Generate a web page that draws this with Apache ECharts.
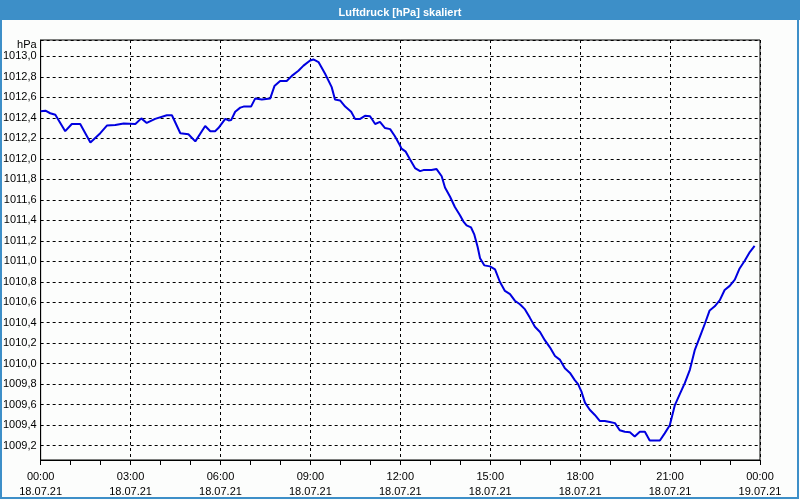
<!DOCTYPE html>
<html>
<head>
<meta charset="utf-8">
<script src="https://cdn.jsdelivr.net/npm/echarts@6/dist/echarts.min.js"></script>
<style>
html,body{margin:0;padding:0;background:#fcfdfc;}
#c{width:800px;height:500px;}
</style>
</head>
<body>
<div id="c"></div>
<script>
// Time of day in hours (18.07.21 00:00 = 0)
var hours = [
 0, 0.16, 0.32, 0.49, 0.82, 1.04, 1.32, 1.66, 1.99, 2.21, 2.49, 2.77, 3.16, 3.36, 3.54, 3.82, 4.21, 4.38, 4.66, 4.93, 5.16, 5.49, 5.66, 5.82,
 5.93, 6.16, 6.27, 6.36, 6.49, 6.66, 6.77, 7.02, 7.16, 7.38, 7.66, 7.80, 7.99, 8.21, 8.38, 8.60, 8.77, 8.99, 9.10, 9.27, 9.49, 9.71, 9.82, 9.99,
 10.16, 10.36, 10.49, 10.66, 10.82, 10.99, 11.16, 11.32, 11.49, 11.66, 11.82, 11.99,
 12.04, 12.18, 12.32, 12.49, 12.66, 12.77, 13.04, 13.21, 13.38, 13.49, 13.66, 13.82, 13.99, 14.10, 14.21, 14.36, 14.47, 14.58, 14.66, 14.80, 14.99,
 15.16, 15.32, 15.49, 15.66, 15.82, 15.99, 16.16, 16.32, 16.49, 16.66, 16.82, 16.99, 17.16, 17.32, 17.49, 17.66, 17.82, 17.93,
 18.04, 18.16, 18.32, 18.49, 18.66, 18.82, 18.99, 19.16, 19.32, 19.49, 19.66, 19.82, 19.99, 20.16, 20.32, 20.49, 20.66, 20.82, 20.99,
 21.16, 21.32, 21.49, 21.66, 21.82, 21.99, 22.16, 22.32, 22.49, 22.66, 22.82, 22.99, 23.16, 23.32, 23.49, 23.66, 23.82
];
// Air pressure in hPa
var pressure = [
 1012.465, 1012.47, 1012.445, 1012.43, 1012.27, 1012.34, 1012.34, 1012.16, 1012.25, 1012.325, 1012.33, 1012.345, 1012.34, 1012.395, 1012.35, 1012.39, 1012.425, 1012.425, 1012.25, 1012.24, 1012.17, 1012.32, 1012.27, 1012.27,
 1012.30, 1012.39, 1012.375, 1012.38, 1012.46, 1012.50, 1012.51, 1012.51, 1012.59, 1012.58, 1012.59, 1012.71, 1012.76, 1012.76, 1012.81, 1012.86, 1012.91, 1012.96, 1012.97, 1012.945, 1012.83, 1012.70, 1012.58, 1012.57,
 1012.51, 1012.46, 1012.39, 1012.39, 1012.42, 1012.415, 1012.34, 1012.36, 1012.30, 1012.29, 1012.22, 1012.13,
 1012.10, 1012.07, 1011.995, 1011.91, 1011.88, 1011.89, 1011.89, 1011.90, 1011.83, 1011.72, 1011.63, 1011.53, 1011.45, 1011.39, 1011.35, 1011.33, 1011.26, 1011.14, 1011.03, 1010.96, 1010.95,
 1010.92, 1010.80, 1010.71, 1010.68, 1010.615, 1010.58, 1010.53, 1010.45, 1010.36, 1010.31, 1010.23, 1010.16, 1010.075, 1010.04, 1009.955, 1009.91, 1009.84, 1009.80,
 1009.73, 1009.62, 1009.55, 1009.50, 1009.44, 1009.44, 1009.43, 1009.42, 1009.35, 1009.335, 1009.33, 1009.29, 1009.335, 1009.335, 1009.25, 1009.25, 1009.25, 1009.32, 1009.40,
 1009.596, 1009.70, 1009.81, 1009.94, 1010.13, 1010.26, 1010.39, 1010.52, 1010.56, 1010.62, 1010.72, 1010.76, 1010.82, 1010.93, 1011.005, 1011.09, 1011.15
];
var timeLabels = ['00:00','03:00','06:00','09:00','12:00','15:00','18:00','21:00','00:00'];
var dateLabels = ['18.07.21','18.07.21','18.07.21','18.07.21','18.07.21','18.07.21','18.07.21','18.07.21','19.07.21'];
var titleText = 'Luftdruck [hPa] skaliert';
var unitText = 'hPa';
var yMin = 1009.06, yMax = 1013.16;

var seriesData = hours.map(function(h, i){ return [h, pressure[i]]; });
var FONT = 'Liberation Sans';

var chart = echarts.init(document.getElementById('c'), null, {renderer: 'canvas'});
chart.setOption({
  backgroundColor: '#fcfdfc',
  animation: false,
  title: {
    text: titleText,
    left: 'center',
    top: 2,
    textStyle: {color: '#ffffff', fontSize: 11, fontWeight: 'bold', fontFamily: 'Liberation Sans'}
  },
  graphic: [
    {type: 'rect', z: -10, silent: true, shape: {x: 0, y: 0, width: 800, height: 20}, style: {fill: '#3d8fc8'}},
    {type: 'rect', z: 100, silent: true, shape: {x: 1, y: 1, width: 797, height: 497}, style: {fill: 'none', stroke: '#3d8fc8', lineWidth: 2}}
  ],
  grid: {left: 40, right: 40, top: 40, bottom: 40, show: true, borderColor: '#000', borderWidth: 1, backgroundColor: '#fcfdfc'},
  xAxis: {
    type: 'value', min: 0, max: 24, interval: 3,
    axisLine: {show: true, lineStyle: {color: '#000', width: 1}},
    axisTick: {show: true, length: 5, lineStyle: {color: '#000'}},
    minorTick: {show: true, splitNumber: 3, length: 5, lineStyle: {color: '#000'}},
    splitLine: {show: true, lineStyle: {color: '#000', type: [3, 3], width: 1}},
    axisLabel: {
      color: '#000', fontSize: 11, fontFamily: FONT, margin: 9, lineHeight: 15,
      formatter: function(v){ var i = Math.round(v / 3); return timeLabels[i] + '\n' + dateLabels[i]; }
    }
  },
  yAxis: {
    type: 'value', min: yMin, max: yMax, splitNumber: 20,
    name: unitText, nameLocation: 'end', nameGap: -5,
    nameTextStyle: {color: '#000', fontSize: 11, fontFamily: FONT, align: 'right', verticalAlign: 'middle', padding: [0, 4, 0, 0]},
    axisLine: {show: true, lineStyle: {color: '#000', width: 1}},
    axisTick: {show: false},
    splitLine: {show: true, lineStyle: {color: '#000', type: [3, 3], width: 1}},
    axisLabel: {
      color: '#000', fontSize: 11, fontFamily: FONT, margin: 4, showMinLabel: false, showMaxLabel: false,
      formatter: function(v){ return v.toFixed(1).replace('.', ','); }
    }
  },
  series: [{
    type: 'line', data: seriesData, showSymbol: false, symbol: 'none',
    lineStyle: {color: '#0000e0', width: 2}
  }]
});
</script>
</body>
</html>
